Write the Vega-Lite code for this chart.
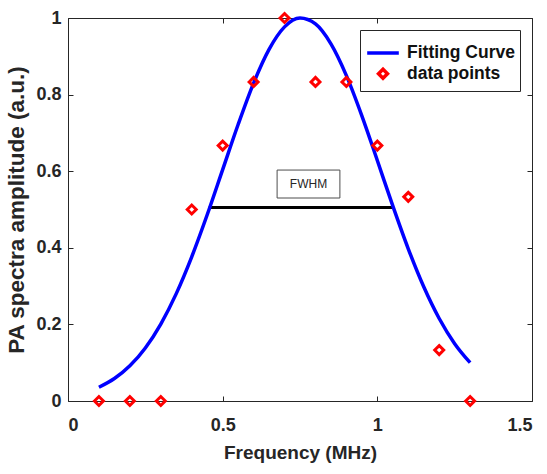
{
  "$schema": "https://vega.github.io/schema/vega-lite/v6.json",
  "width": 464,
  "height": 383,
  "autosize": {"type": "none"},
  "padding": {"left": 68, "top": 18, "right": 15, "bottom": 73},
  "background": "white",
  "config": {
    "view": {"stroke": "#262626", "strokeWidth": 1},
    "font": "Liberation Sans",
    "axis": {
      "grid": false,
      "domain": false,
      "labelFont": "Liberation Sans",
      "labelFontWeight": "bold",
      "labelFontSize": 18,
      "labelColor": "#262626",
      "titleFont": "Liberation Sans",
      "titleFontWeight": "bold",
      "titleFontSize": 19,
      "titleColor": "#262626",
      "tickColor": "#262626",
      "tickSize": -5
    },
    "legend": {
      "title": null,
      "labelFont": "Liberation Sans", "labelFontWeight": "bold", "labelFontSize": 17.5, "labelColor": "#111111"
    }
  },
  "datasets": {
    "curve": [
      {"f": 0.10, "a": 0.0359}, {"f": 0.15, "a": 0.0586}, {"f": 0.20, "a": 0.0918},
      {"f": 0.25, "a": 0.1385}, {"f": 0.30, "a": 0.2010}, {"f": 0.35, "a": 0.2804},
      {"f": 0.40, "a": 0.3765}, {"f": 0.45, "a": 0.4862}, {"f": 0.50, "a": 0.6041},
      {"f": 0.55, "a": 0.7219}, {"f": 0.60, "a": 0.8301}, {"f": 0.65, "a": 0.9181},
      {"f": 0.70, "a": 0.9768}, {"f": 0.75, "a": 0.9998}, {"f": 0.80, "a": 0.9844},
      {"f": 0.85, "a": 0.9324}, {"f": 0.90, "a": 0.8496}, {"f": 0.95, "a": 0.7447},
      {"f": 1.00, "a": 0.6280}, {"f": 1.05, "a": 0.5094}, {"f": 1.10, "a": 0.3974},
      {"f": 1.15, "a": 0.2983}, {"f": 1.20, "a": 0.2155}, {"f": 1.25, "a": 0.1497},
      {"f": 1.30, "a": 0.1000}
    ],
    "points": [
      {"f": 0.1, "a": 0}, {"f": 0.2, "a": 0}, {"f": 0.3, "a": 0},
      {"f": 0.4, "a": 0.5}, {"f": 0.5, "a": 0.667}, {"f": 0.6, "a": 0.833},
      {"f": 0.7, "a": 1.0}, {"f": 0.8, "a": 0.833}, {"f": 0.9, "a": 0.833},
      {"f": 1.0, "a": 0.667}, {"f": 1.1, "a": 0.533}, {"f": 1.2, "a": 0.133},
      {"f": 1.3, "a": 0}
    ],
    "fwhm": [{"f": 0.455, "f2": 1.05, "a": 0.505}],
    "label": [{"f": 0.676, "f2": 0.879, "a": 0.603, "a2": 0.530, "fm": 0.7775, "am": 0.5665, "t": "FWHM"}]
  },
  "resolve": {"axis": {"x": "independent", "y": "independent"}},
  "layer": [
    {
      "data": {"name": "fwhm"},
      "mark": {"type": "rule", "color": "black", "strokeWidth": 3},
      "encoding": {
        "x": {"field": "f", "type": "quantitative", "scale": {"domain": [0, 1.5], "nice": false},
          "axis": {"orient": "bottom", "values": [0, 0.5, 1, 1.5], "format": "~g", "labelPadding": 20, "title": "Frequency (MHz)", "titlePadding": 9}},
        "x2": {"field": "f2"},
        "y": {"field": "a", "type": "quantitative", "scale": {"domain": [0, 1], "nice": false},
          "axis": {"orient": "left", "values": [0, 0.2, 0.4, 0.6, 0.8, 1], "format": "~g", "labelPadding": 12, "title": "PA spectra amplitude (a.u.)", "titleFontSize": 22.5, "titlePadding": 7}}
      }
    },
    {
      "data": {"name": "label"},
      "mark": {"type": "rect", "fill": "white", "stroke": "#4d4d4d", "strokeWidth": 1},
      "encoding": {
        "x": {"field": "f", "type": "quantitative", "axis": {"orient": "top", "values": [0, 0.5, 1, 1.5], "labels": false, "title": null}},
        "x2": {"field": "f2"},
        "y": {"field": "a", "type": "quantitative", "axis": {"orient": "right", "values": [0, 0.2, 0.4, 0.6, 0.8, 1], "labels": false, "title": null}},
        "y2": {"field": "a2"}
      }
    },
    {
      "data": {"name": "label"},
      "mark": {"type": "text", "fontSize": 12, "color": "#262626", "font": "Liberation Sans"},
      "encoding": {
        "x": {"field": "fm", "type": "quantitative", "axis": null},
        "y": {"field": "am", "type": "quantitative", "axis": null},
        "text": {"field": "t"}
      }
    },
    {
      "data": {"name": "curve"},
      "transform": [{"calculate": "'Fitting Curve'", "as": "series"}],
      "mark": {"type": "line", "strokeWidth": 3.5, "interpolate": "monotone"},
      "encoding": {
        "x": {"field": "f", "type": "quantitative", "axis": null},
        "y": {"field": "a", "type": "quantitative", "axis": null},
        "color": {"field": "series", "type": "nominal",
          "scale": {"domain": ["Fitting Curve", "data points"], "range": ["#0000ff", "#ff0000"]}}
      }
    },
    {
      "data": {"name": "points"},
      "transform": [{"calculate": "'data points'", "as": "series"}],
      "mark": {"type": "point", "filled": false, "strokeWidth": 3, "opacity": 1},
      "encoding": {
        "x": {"field": "f", "type": "quantitative", "axis": null},
        "y": {"field": "a", "type": "quantitative", "axis": null},
        "color": {"field": "series", "type": "nominal",
          "scale": {"domain": ["Fitting Curve", "data points"], "range": ["#0000ff", "#ff0000"]},
          "legend": {"orient": "top-right", "offset": 12, "fillColor": "white", "strokeColor": "#262626", "padding": 5,
            "symbolStrokeWidth": 3.5, "rowPadding": 0, "labelOffset": 6, "symbolOpacity": 1}},
        "shape": {"field": "series", "type": "nominal",
          "scale": {"domain": ["Fitting Curve", "data points"], "range": ["stroke", "diamond"]}},
        "size": {"field": "series", "type": "ordinal",
          "scale": {"domain": ["Fitting Curve", "data points"], "range": [1000, 80]}}
      }
    }
  ]
}
